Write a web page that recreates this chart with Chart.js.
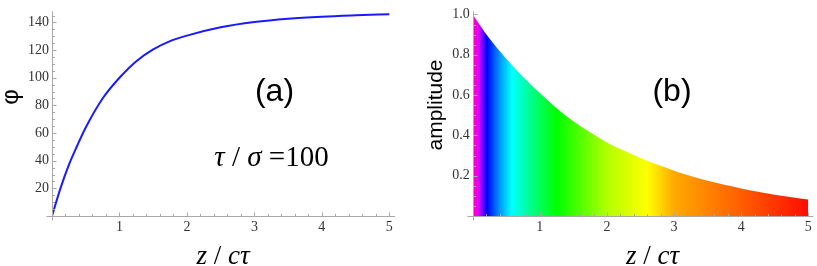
<!DOCTYPE html>
<html>
<head>
<meta charset="utf-8">
<script src="https://cdn.jsdelivr.net/npm/chart.js@4.4.1/dist/chart.umd.min.js"></script>
<style>
body { margin: 0; background: #fff; }
#wrap { position: relative; width: 817px; height: 266px; overflow: hidden; }
#chartA { position: absolute; left: 0; top: 0; }
#chartB { position: absolute; left: 410px; top: 0; }
.pre { position: absolute; left: -999px; top: 0; }
</style>
</head>
<body>
<span class="pre" style="font-family:'Liberation Serif'">1 <i>τσ</i></span>
<span class="pre" style="font-family:'Liberation Sans'">(a) φ</span>
<div id="wrap">
<canvas id="chartA" width="410" height="266"></canvas>
<canvas id="chartB" width="407" height="266"></canvas>
</div>
<script>
// valores
const zPhi = [0, 0.125, 0.25, 0.375, 0.5, 0.75, 1, 1.25, 1.5, 1.75, 2, 2.5, 3, 3.5, 4, 4.5, 5]
const phiValues = [0, 20, 37, 51, 64, 85, 100, 112, 120.5, 126.5, 130.5, 136.5, 140.3, 142.7, 144.2, 145.2, 146]

const zAmp = [0, 0.25, 0.5, 0.75, 1, 1.25, 1.5, 1.75, 2, 2.25, 2.5, 2.75, 3, 3.25, 3.5, 3.75, 4, 4.25, 4.5, 4.75, 5]
const ampValues = [1.0, 0.88, 0.78, 0.69, 0.61, 0.535, 0.47, 0.415, 0.365, 0.325, 0.288, 0.255, 0.225, 0.198, 0.175, 0.155, 0.137, 0.12, 0.106, 0.093, 0.082]

const xTicks = [1, 2, 3, 4, 5]
const phiTicks = [20, 40, 60, 80, 100, 120, 140]
const ampTicks = [0.2, 0.4, 0.6, 0.8, 1.0]

// cores do preenchimento (z, matiz)
const hueStops = [[0, 322], [0.08, 295], [0.21, 240], [0.4, 205], [0.58, 180], [0.9, 150], [1.25, 120], [2.0, 78], [2.6, 60], [3.0, 40], [4.0, 22], [5.0, 3]]

const serifFam = '"Liberation Serif"'
const sansFam = '"Liberation Sans"'
const corEixo = '#a8a8a8'
const corTexto = '#333'

// desenha um texto com partes em italico
function textoMisto(ctx, partes, cx, cy, size, family) {
    let total = 0
    partes.forEach((p) => {
        ctx.font = (p.it ? 'italic ' : '') + size + 'px ' + family
        p.w = ctx.measureText(p.t).width
        total += p.w
    })
    let x = cx - total / 2
    ctx.textAlign = 'left'
    ctx.textBaseline = 'alphabetic'
    partes.forEach((p) => {
        ctx.font = (p.it ? 'italic ' : '') + size + 'px ' + family
        ctx.fillText(p.t, x, cy)
        x += p.w
    })
}

// eixos no estilo mathematica, ticks para dentro e textos
const eixos = {
    id: 'eixos',
    afterDatasetsDraw(chart, args, opts) {
        const ctx = chart.ctx
        const sx = chart.scales.x, sy = chart.scales.y
        const x0 = Math.round(sx.getPixelForValue(0)) + 0.5
        const y0 = Math.round(sy.getPixelForValue(0)) + 0.5
        ctx.save()
        ctx.strokeStyle = corEixo
        ctx.lineWidth = 1
        ctx.beginPath()
        ctx.moveTo(x0 - 6, y0); ctx.lineTo(sx.right, y0)
        ctx.moveTo(x0, y0 + 4); ctx.lineTo(x0, sy.top)
        for (let i = 1; i * opts.minorX <= sx.max; i++) {
            const px = Math.round(sx.getPixelForValue(i * opts.minorX)) + 0.5
            const len = (i % opts.nx == 0) ? 4 : 2.5
            ctx.moveTo(px, y0); ctx.lineTo(px, y0 - len)
        }
        for (let i = 1; i * opts.minorY <= sy.max; i++) {
            const py = Math.round(sy.getPixelForValue(i * opts.minorY)) + 0.5
            const len = (i % opts.ny == 0) ? 4 : 2.5
            ctx.moveTo(x0, py); ctx.lineTo(x0 + len, py)
        }
        ctx.stroke()

        ctx.fillStyle = '#000'
        opts.textos.forEach((t) => {
            ctx.save()
            ctx.translate(t.x, t.y)
            if (t.rot) ctx.rotate(t.rot)
            textoMisto(ctx, t.partes, 0, 0, t.size, t.family)
            ctx.restore()
        })
        ctx.restore()
    }
}

function escalas(xMax, yMax, yTicks, yWidth, fmt) {
    return {
        x: {
            type: 'linear', min: 0, max: xMax,
            afterBuildTicks: (s) => { s.ticks = xTicks.map((v) => ({ value: v })) },
            afterFit: (s) => { s.height = 50 },
            grid: { display: false, drawTicks: false },
            border: { display: false },
            ticks: { padding: 3, maxRotation: 0, color: corTexto, font: { family: serifFam, size: 14 } }
        },
        y: {
            type: 'linear', min: 0, max: yMax,
            afterBuildTicks: (s) => { s.ticks = yTicks.map((v) => ({ value: v })) },
            afterFit: (s) => { s.width = yWidth },
            grid: { display: false, drawTicks: false },
            border: { display: false },
            ticks: { padding: 3, color: corTexto, font: { family: serifFam, size: 14 }, callback: fmt }
        }
    }
}

const rotuloZ = [{ t: 'z', it: true }, { t: ' / ', it: false }, { t: 'c', it: true }, { t: 'τ', it: true }]

// (a) fase
const chartA = new Chart(document.getElementById('chartA'), {
    type: 'line',
    data: {
        datasets: [{
            data: zPhi.map((z, i) => ({ x: z, y: phiValues[i] })),
            borderColor: '#1a1aff',
            borderWidth: 2,
            pointRadius: 0,
            cubicInterpolationMode: 'monotone',
            fill: false
        }]
    },
    options: {
        responsive: false,
        animation: false,
        layout: { padding: { top: 3, right: 15, left: 0, bottom: 0 } },
        scales: escalas(5.084, 148, phiTicks, 52, (v) => v),
        plugins: {
            legend: { display: false },
            tooltip: { enabled: false },
            eixos: {
                minorX: 0.2, nx: 5, minorY: 5, ny: 4,
                textos: [
                    { x: 274.5, y: 101, size: 32, family: sansFam, partes: [{ t: '(a)' }] },
                    { x: 271.5, y: 166, size: 29, family: serifFam, partes: [{ t: 'τ', it: true }, { t: ' / ' }, { t: 'σ', it: true }, { t: ' =' }, { t: '100' }] },
                    { x: 223, y: 264, size: 27, family: serifFam, partes: rotuloZ },
                    { x: 18, y: 97, rot: -Math.PI / 2, size: 24, family: sansFam, partes: [{ t: 'φ' }] }
                ]
            }
        }
    },
    plugins: [eixos]
})

// (b) amplitude
const chartB = new Chart(document.getElementById('chartB'), {
    type: 'line',
    data: {
        datasets: [{
            data: zAmp.map((z, i) => ({ x: z, y: ampValues[i] })),
            borderWidth: 0,
            pointRadius: 0,
            cubicInterpolationMode: 'monotone',
            fill: 'origin',
            backgroundColor: (context) => {
                const chart = context.chart
                const { ctx, chartArea, scales } = chart
                if (!chartArea) return null
                const a = scales.x.getPixelForValue(0), b = scales.x.getPixelForValue(5)
                const g = ctx.createLinearGradient(a, 0, b, 0)
                hueStops.forEach((s) => g.addColorStop(s[0] / 5, 'hsl(' + s[1] + ',100%,50%)'))
                return g
            }
        }]
    },
    options: {
        responsive: false,
        animation: false,
        layout: { padding: { top: 3, right: 3.7, left: 0, bottom: 0 } },
        scales: escalas(5.075, 1.015, ampTicks, 62.7, (v) => v.toFixed(1)),
        plugins: {
            legend: { display: false },
            tooltip: { enabled: false },
            eixos: {
                minorX: 0.2, nx: 5, minorY: 0.05, ny: 4,
                textos: [
                    { x: 262, y: 101, size: 32, family: sansFam, partes: [{ t: '(b)' }] },
                    { x: 242.5, y: 264, size: 27, family: serifFam, partes: rotuloZ },
                    { x: 32, y: 105, rot: -Math.PI / 2, size: 21, family: sansFam, partes: [{ t: 'amplitude' }] }
                ]
            }
        }
    },
    plugins: [eixos]
})

// redesenha quando as fontes estiverem prontas
document.fonts.ready.then(() => {
    chartA.update()
    chartB.update()
})
</script>
</body>
</html>
